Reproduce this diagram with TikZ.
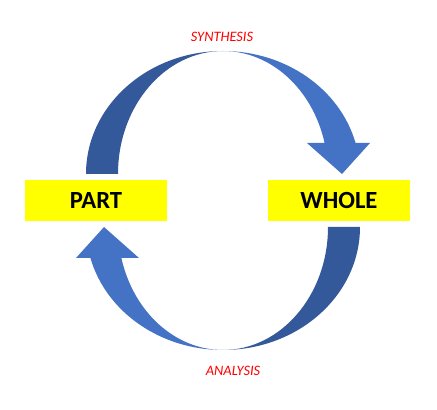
\documentclass[tikz,border=0pt]{standalone}
\usepackage{fontspec}
\setmainfont{Carlito}
\definecolor{loopdark}{HTML}{34599A}
\definecolor{looplight}{HTML}{4472C4}
\definecolor{boxyellow}{HTML}{FFFF00}
\definecolor{labelred}{HTML}{FF0000}
% one half of the loop, drawn round the hub
\newcommand{\halfloop}{%
\fill[loopdark] (-137,26.5) arc[start angle=180,end angle=90,x radius=137,y radius=123]
  arc[start angle=90,end angle=180,x radius=105,y radius=123] -- cycle;
\fill[looplight] (0,149.5) arc[start angle=90,end angle=14.6,x radius=137,y radius=123]
  -- (147,57.5) -- (119,26.5) -- (84,57.5) -- (101.6,57.5)
  arc[start angle=14.6,end angle=90,x radius=105,y radius=123] -- cycle;}

\begin{document}
\begin{tikzpicture}[x=0.75pt,y=0.75pt,
  wordbox/.style={fill=boxyellow,minimum width=106.5pt,minimum height=30.75pt,inner sep=0pt,font=\bfseries\fontsize{18.5}{18.5}\selectfont},
  looplabel/.style={text=labelred,inner sep=0pt,font=\itshape\fontsize{10.8}{10.8}\selectfont}]
\useasboundingbox (0,0) rectangle (437,410);
\coordinate (hub) at (223,209.5);
\begin{scope}[shift={(hub)}]
\halfloop
\end{scope}
\begin{scope}[shift={(hub)},rotate=180]
\halfloop
\end{scope}
\node[wordbox] (part)  at (96,209.5)  {PART};
\node[wordbox] (whole) at (339,209.5) {WHOLE};
\node[looplabel] (synthesis) at (222,373) {SYNTHESIS};
\node[looplabel] (analysis)  at (233,39)  {ANALYSIS};
\end{tikzpicture}
\end{document}
